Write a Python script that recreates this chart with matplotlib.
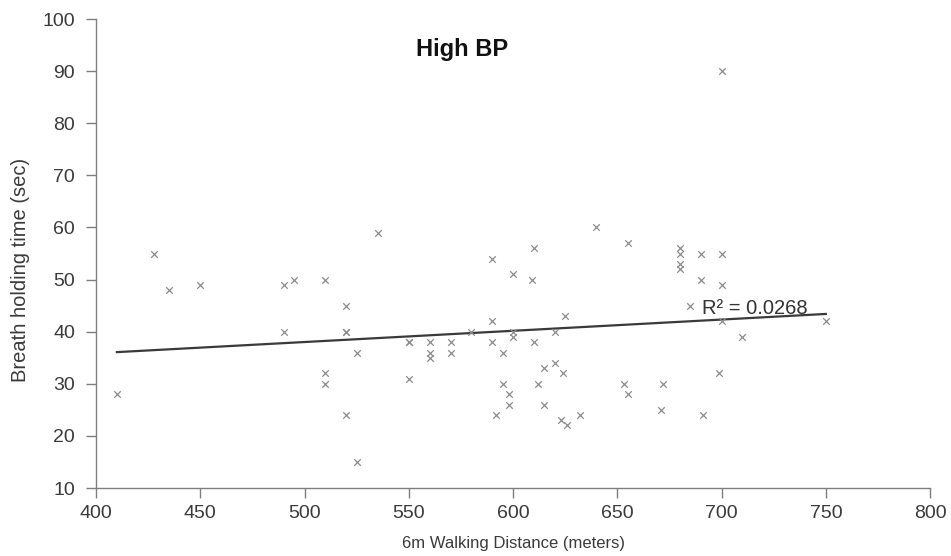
import numpy as np
import matplotlib
matplotlib.use("Agg")
import matplotlib.pyplot as plt

plt.rcParams["font.family"] = ["Liberation Sans", "DejaVu Sans"]

# 6m walking distance (meters) and breath holding time (sec), high BP group
distance = [
    410, 428, 435, 450, 490, 490, 495, 510, 510, 510, 520, 520, 520, 520,
    525, 525, 535, 550, 550, 550, 560, 560, 560, 570, 570, 580, 590, 590,
    590, 592, 595, 595, 598, 598, 600, 600, 600, 609, 610, 610, 612, 615,
    615, 620, 620, 623, 624, 625, 626, 632, 640, 653, 655, 655, 671, 672,
    680, 680, 680, 680, 685, 690, 690, 691, 699, 700, 700, 700, 700, 710,
    750,
]
breath_time = [
    28, 55, 48, 49, 49, 40, 50, 50, 32, 30, 45, 40, 40, 24,
    36, 15, 59, 38, 38, 31, 38, 36, 35, 38, 36, 40, 54, 42,
    38, 24, 36, 30, 28, 26, 51, 40, 39, 50, 56, 38, 30, 33,
    26, 40, 34, 23, 32, 43, 22, 24, 60, 30, 57, 28, 25, 30,
    56, 55, 53, 52, 45, 55, 50, 24, 32, 90, 55, 49, 42, 39,
    42,
]
r_squared_label = "R² = 0.0268"

x = np.array(distance, dtype=float)
y = np.array(breath_time, dtype=float)
slope, intercept = np.polyfit(x, y, 1)

fig = plt.figure(figsize=(9.51, 5.56), dpi=100)
ax = fig.add_axes([0.101, 0.1223, 0.877, 0.8435])

ax.scatter(x, y, marker="x", s=22, color="#8c8c8c", linewidths=0.9, zorder=3)

x_line = np.array([x.min(), x.max()])
ax.plot(x_line, slope * x_line + intercept, color="#3a3a3a", linewidth=1.6, zorder=2)

ax.text(690.5, 44.4, r_squared_label, fontsize=14.5, color="#333333", va="center", ha="left")
ax.text(575.5, 94.2, "High BP", fontsize=17, fontweight="bold", color="#111111",
        ha="center", va="center")

ax.set_xlim(400, 800)
ax.set_ylim(10, 100)
ax.set_xticks(np.arange(400, 801, 50))
ax.set_yticks(np.arange(10, 101, 10))

for side in ["top", "right"]:
    ax.spines[side].set_visible(False)
for side in ["left", "bottom"]:
    ax.spines[side].set_color("#7f7f7f")
    ax.spines[side].set_linewidth(1.0)

ax.tick_params(axis="both", direction="out", length=7, width=1.0, color="#7f7f7f",
               labelsize=14, labelcolor="#3a3a3a")
ax.tick_params(axis="x", pad=5)
ax.tick_params(axis="y", pad=8)

ax.set_xlabel("6m Walking Distance (meters)", fontsize=12, color="#3a3a3a", labelpad=10)
ax.set_ylabel("Breath holding time (sec)", fontsize=14.5, color="#3a3a3a")
ax.yaxis.set_label_coords(-0.079, 0.465)

fig.savefig("out.png", dpi=100)
